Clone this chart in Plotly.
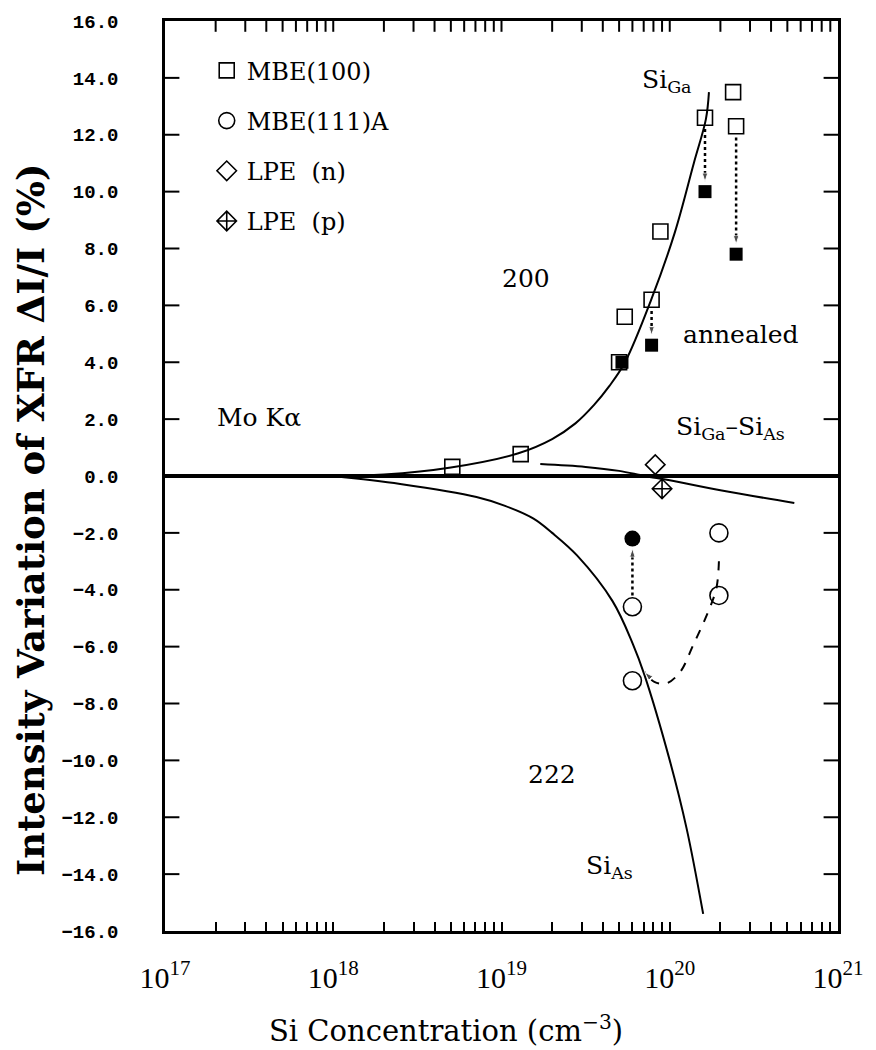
import numpy as np
import plotly.graph_objects as go

# ---------------- data ----------------
# MBE(100) open squares (as grown)
mbe100_x = [5.1e18, 1.3e19, 5.0e19, 5.4e19, 7.8e19, 8.8e19, 1.62e20, 2.38e20, 2.48e20]
mbe100_y = [0.32, 0.77, 4.0, 5.6, 6.2, 8.6, 12.6, 13.5, 12.3]
# MBE(100) annealed (filled squares)
ann_sq_x = [5.2e19, 7.8e19, 1.62e20, 2.48e20]
ann_sq_y = [4.0, 4.6, 10.0, 7.8]
# MBE(111)A open circles
mbe111_x = [6.0e19, 6.0e19, 1.96e20, 1.96e20]
mbe111_y = [-4.6, -7.2, -2.0, -4.2]
# MBE(111)A annealed (filled circle)
ann_ci_x = [6.0e19]
ann_ci_y = [-2.2]
# LPE
lpe_n_x = [8.2e19]
lpe_n_y = [0.4]
lpe_p_x = [9.0e19]
lpe_p_y = [-0.45]

# annealing arrows: x, from y (as grown), to y (annealed)
arrow_x = [7.8e19, 1.62e20, 2.48e20, 6.0e19]
arrow_from = [6.2, 12.6, 12.3, -4.6]
arrow_to = [4.6, 10.0, 7.8, -2.2]

# calculated curves
siga_x = [1.0e18, 2.0e18, 5.0e18, 1.26e19, 2.0e19, 2.75e19, 3.55e19, 4.37e19, 5.42e19, 7.76e19,
          1.07e20, 1.39e20, 1.64e20, 1.71e20]
siga_y = [0.0, 0.05, 0.3, 0.8, 1.3, 1.85, 2.5, 3.16, 4.0, 6.2, 8.55, 11.0, 12.55, 13.5]
sias_x = [1.0e18, 2.5e18, 7.1e18, 1.05e19, 1.55e19, 2.0e19, 2.82e19, 4.57e19, 6.03e19, 7.08e19,
          1.0e20, 1.26e20, 1.58e20]
sias_y = [0.0, -0.28, -0.74, -1.05, -1.5, -2.0, -2.8, -4.4, -5.9, -7.0, -10.0, -12.4, -15.4]
diff_x = [1.7e19, 3.16e19, 5.0e19, 7.08e19, 1.0e20, 2.0e20, 5.5e20]
diff_y = [0.42, 0.32, 0.18, 0.0, -0.15, -0.5, -0.95]
# dashed trend for MBE(111)A
trend_x = [1.96e20, 1.9e20, 1.74e20, 1.38e20, 1.15e20, 9.5e19, 8.1e19, 7.1e19]
trend_y = [-3.0, -3.9, -4.6, -5.94, -6.9, -7.3, -7.24, -6.9]

y_range = [-16, 16]
x_range_log = [17, 21]
y_ticks = list(range(-16, 17, 2))
y_ticktext = [("\u2212" if v < 0 else "") + "%.1f" % abs(v) for v in y_ticks]
x_decades = [17, 18, 19, 20, 21]
x_ticks = [m * 10.0 ** d for d in x_decades[:-1] for m in range(1, 10)] + [10.0 ** x_decades[-1]]
x_ticktext = [("10<sup>%d</sup>" % d if m == 1 else "") for d in x_decades[:-1] for m in range(1, 10)] + \
             ["10<sup>%d</sup>" % x_decades[-1]]

SERIF = "DejaVu Serif"
PLOT_W, PLOT_H = 673, 912
fig = go.Figure()

# curves
fig.add_trace(go.Scatter(x=siga_x, y=siga_y, mode="lines", line=dict(color="black", width=2, shape="spline"),
                         showlegend=False, hoverinfo="skip"))
fig.add_trace(go.Scatter(x=sias_x, y=sias_y, mode="lines", line=dict(color="black", width=2, shape="spline"),
                         showlegend=False, hoverinfo="skip"))
fig.add_trace(go.Scatter(x=diff_x, y=diff_y, mode="lines", line=dict(color="black", width=2, shape="spline"),
                         showlegend=False, hoverinfo="skip"))
fig.add_trace(go.Scatter(x=trend_x, y=trend_y, mode="lines+markers",
                         line=dict(color="black", width=2, dash="dash", shape="spline"),
                         marker=dict(symbol="arrow", angleref="previous", color="black",
                                     size=[0] * (len(trend_x) - 1) + [9]),
                         showlegend=False, hoverinfo="skip"))

# annealing arrows (dotted)
for xa, y0, y1 in zip(arrow_x, arrow_from, arrow_to):
    s = 1 if y1 > y0 else -1
    fig.add_trace(go.Scatter(x=[xa, xa], y=[y0 + s * 0.4, y1 - s * 0.35], mode="lines+markers",
                             line=dict(color="black", width=2.5, dash="dot"),
                             marker=dict(symbol="arrow", angleref="previous", color="black", size=[0, 9]),
                             showlegend=False, hoverinfo="skip"))

# data markers (legend entries)
fig.add_trace(go.Scatter(x=mbe100_x, y=mbe100_y, mode="markers", name="MBE(100)", legendgroup="a",
                         marker=dict(symbol="square-open", size=15, color="black", line=dict(width=1.6))))
fig.add_trace(go.Scatter(x=mbe111_x, y=mbe111_y, mode="markers", name="MBE(111)A", legendgroup="b",
                         marker=dict(symbol="circle-open", size=18, color="black", line=dict(width=1.6))))
fig.add_trace(go.Scatter(x=lpe_n_x, y=lpe_n_y, mode="markers", name="LPE  (n)", legendgroup="c",
                         marker=dict(symbol="diamond-open", size=15, color="black", line=dict(width=1.6))))
fig.add_trace(go.Scatter(x=lpe_p_x, y=lpe_p_y, mode="markers", name="LPE  (p)", legendgroup="d",
                         marker=dict(symbol="diamond-cross-open", size=15, color="black", line=dict(width=1.6))))
# annealed (filled)
fig.add_trace(go.Scatter(x=ann_sq_x, y=ann_sq_y, mode="markers", showlegend=False,
                         marker=dict(symbol="square", size=13, color="black")))
fig.add_trace(go.Scatter(x=ann_ci_x, y=ann_ci_y, mode="markers", showlegend=False,
                         marker=dict(symbol="circle", size=16, color="black")))

# ---- frame tick marks on top / left / right as line markers (from the tick arrays) ----
side_len, top_len = 12, 9
x_lo, x_hi = 10.0 ** x_range_log[0], 10.0 ** x_range_log[1]
half_side = 10 ** (side_len / 2 / PLOT_W * (x_range_log[1] - x_range_log[0]))
half_top = top_len / 2 / PLOT_H * (y_range[1] - y_range[0])
inner_y = y_ticks[1:-1]
fig.add_trace(go.Scatter(x=[x_lo * half_side] * len(inner_y) + [x_hi / half_side] * len(inner_y),
                         y=inner_y + inner_y, mode="markers", showlegend=False, hoverinfo="skip",
                         cliponaxis=False,
                         marker=dict(symbol="line-ew", size=side_len, color="black",
                                     line=dict(color="black", width=2))))
inner_x = x_ticks[1:-1]
fig.add_trace(go.Scatter(x=inner_x, y=[y_range[1] - half_top] * len(inner_x), mode="markers",
                         showlegend=False, hoverinfo="skip", cliponaxis=False,
                         marker=dict(symbol="line-ns", size=top_len, color="black",
                                     line=dict(color="black", width=2))))

labels = [
    (np.log10(3.6e17), 2.07, "Mo K\u03b1"),
    (np.log10(1.4e19), 6.93, "200"),
    (np.log10(2.0e19), -10.5, "222"),
    (np.log10(9.6e19), 13.9, "Si<sub>Ga</sub>"),
    (np.log10(2.65e20), 4.96, "annealed"),
    (np.log10(2.3e20), 1.69, "Si<sub>Ga</sub>\u2013Si<sub>As</sub>"),
    (np.log10(4.4e19), -13.75, "Si<sub>As</sub>"),
]
annotations = [dict(x=x, y=y, xref="x", yref="y", text=t, showarrow=False,
                    font=dict(family=SERIF, size=25, color="black")) for x, y, t in labels]
annotations.append(dict(x=0.4175, y=-0.108, xref="paper", yref="paper", xanchor="center", yanchor="middle",
                        text="Si Concentration (cm<sup>\u22123</sup>)", showarrow=False,
                        font=dict(family=SERIF, size=29, color="black")))
annotations.append(dict(x=-0.2, y=0.452, xref="paper", yref="paper", xanchor="center", yanchor="middle",
                        textangle=-90,
                        text="Intensity Variation of XFR \u0394I/I (%)", showarrow=False,
                        font=dict(family=SERIF, size=37, color="black", weight="bold")))

fig.update_layout(
    width=876, height=1050,
    margin=dict(l=165, r=38, t=19, b=119),
    paper_bgcolor="white", plot_bgcolor="white",
    showlegend=True,
    legend=dict(x=0.062, y=0.97, xanchor="left", yanchor="top", bgcolor="rgba(0,0,0,0)",
                font=dict(family=SERIF, size=24, color="black"), tracegroupgap=16,
                itemsizing="trace"),
    annotations=annotations,
    xaxis=dict(type="log", range=x_range_log, showgrid=False, zeroline=False,
               showline=True, linecolor="black", linewidth=2.5, mirror=True,
               ticks="inside", ticklen=9, tickwidth=1.5, tickcolor="black",
               tickmode="array", tickvals=x_ticks, ticktext=x_ticktext, ticklabelstandoff=18,
               tickfont=dict(family="Liberation Serif", size=30, color="black")),
    yaxis=dict(range=y_range, showgrid=False, zeroline=True, zerolinecolor="black", zerolinewidth=3.5,
               showline=True, linecolor="black", linewidth=2.5, mirror=True,
               ticks="", tickmode="array", tickvals=y_ticks, ticktext=y_ticktext, ticklabelstandoff=40,
               tickfont=dict(family="Liberation Mono", size=19, color="black", weight="bold")),
)

fig.write_html("out.html")
